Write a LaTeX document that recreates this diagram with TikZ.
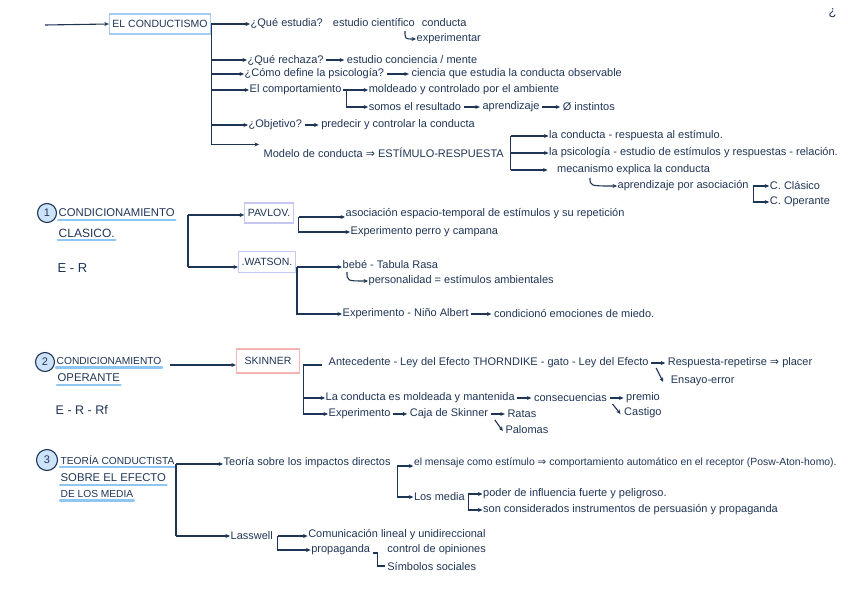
\documentclass[tikz,border=0pt]{standalone}
\usepackage{fontspec}
\setmainfont{Liberation Sans}
\newfontfamily\sym{DejaVu Sans}
\usetikzlibrary{arrows.meta,positioning}
\definecolor{ink}{HTML}{1F3556}
\definecolor{boxblue}{HTML}{A9CBF2}
\definecolor{boxlav}{HTML}{C6C8F2}
\definecolor{boxred}{HTML}{F4B4B4}
\definecolor{ulblue}{HTML}{8FC6F2}
\definecolor{numblue}{HTML}{CDE3FA}
\tikzset{
  txt/.style={anchor=west, inner sep=0.5pt, text=ink, font=\fontsize{11}{13}\selectfont},
  hdr/.style={anchor=west, inner sep=0.5pt, text=ink, font=\fontsize{11.3}{13}\selectfont},
  arr/.style={draw=ink, line width=1.1pt, -{Stealth[length=4.5pt,width=4pt]}},
  ln/.style={draw=ink, line width=1.1pt},
  bx/.style={draw=#1, line width=1.3pt, inner sep=3pt, text=ink, font=\fontsize{10.5}{12}\selectfont},
  ul/.style={draw=ulblue, line width=2.4pt, line cap=round},
  num/.style={circle, draw=ink, fill=numblue, line width=1.1pt, inner sep=0pt, minimum size=19pt, text=ink, font=\fontsize{11}{13}\selectfont}
}
\begin{document}
\begin{tikzpicture}[x=1pt,y=-1pt]
\useasboundingbox (0,0) rectangle (848,599);
% ---------- EL CONDUCTISMO ----------
\coordinate (s0) at (45,25);
\node[bx=boxblue, minimum width=94pt, minimum height=20pt] (cond) at (160,24) {EL CONDUCTISMO};
\draw[arr] (s0) -- (cond.west);
\node[txt] (q1) at (250,23) {¿Qué estudia?\hspace{6pt} estudio científico\hspace{4pt} conducta};
\draw[arr] (cond.east) -- (cond.east -| q1.west);
\coordinate (h1) at (405,31);
\node[txt] (exp) at (416,39) {experimentar};
\draw[arr] (h1) .. controls (h1 |- exp.west) .. (exp.west);
\node[txt] (q2a) at (247,60) {¿Qué rechaza?};
\node[txt, right=22pt of q2a] (q2b) {estudio conciencia / mente};
\draw[arr, shorten <=2pt, shorten >=2pt] (q2a.east) -- (q2b.west);
\node[txt] (q3a) at (244,74) {¿Cómo define la psicología?};
\node[txt, right=26pt of q3a] (q3b) {ciencia que estudia la conducta observable};
\draw[arr, shorten <=2pt, shorten >=2pt] (q3a.east) -- (q3b.west);
\node[txt] (q4) at (249,90) {El comportamiento};
\node[txt, right=26pt of q4] (m1) {moldeado y controlado por el ambiente};
\node[txt] (m2) at (m1.west |- 0,107) {somos el resultado};
\node[txt, right=20pt of m2] (m2b) {aprendizaje};
\node[txt, right=22pt of m2b] (m2c) {Ø instintos};
\coordinate (b4) at ([xshift=4pt]q4.east);
\draw[arr] ([xshift=1pt]q4.east) -- (m1.west);
\draw[arr] (b4) |- (m2.west);
\draw[arr, shorten <=2pt, shorten >=2pt] (m2.east) -- (m2b.west);
\draw[arr, shorten <=2pt, shorten >=2pt] (m2b.east) -- (m2c.west);
\node[txt] (q5a) at (248,125) {¿Objetivo?};
\node[txt, right=18pt of q5a] (q5b) {predecir y controlar la conducta};
\draw[arr, shorten <=2pt, shorten >=2pt] (q5a.east) -- (q5b.west);
\node[txt] (q6) at (263,153) {Modelo de conducta {\sym ⇒} ESTÍMULO-RESPUESTA};
\coordinate (q6t) at ([xshift=-4pt,yshift=3pt]q6.north west);
\draw[ln] (cond.east) -- (cond.east |- q6t);
\foreach \n in {q2a,q3a,q4,q5a} {\draw[arr] (cond.east |- \n.west) -- (\n.west);}
\draw[arr] (cond.east |- q6t) -- (q6t);
\coordinate (r0) at ([xshift=6pt]q6.east);
\node[txt] (r1) at ([xshift=38pt]r0 |- 0,136) {la conducta - respuesta al estímulo.};
\node[txt] (r2) at ([xshift=38pt]r0 |- 0,153) {la psicología - estudio de estímulos y respuestas - relación.};
\node[txt] (r3) at ([xshift=46pt]r0 |- 0,170) {mecanismo explica la conducta};
\draw[ln] (r0 |- r1.west) -- (r0 |- r3.west);
\draw[arr] (r0 |- r1.west) -- (r1.west);
\draw[arr] (r0 |- r2.west) -- (r2.west);
\draw[arr] (r0 |- r3.west) -- ([xshift=-9pt]r3.west);
\coordinate (h2) at (590,178);
\node[txt] (ap) at (617,186) {aprendizaje por asociación};
\draw[arr] (h2) .. controls (h2 |- ap.west) .. (ap.west);
\node[txt, right=20pt of ap] (c1) {C. Clásico};
\node[txt] (c2) at ([yshift=-16pt]c1.west) {C. Operante};
\coordinate (c0) at ([xshift=4pt]ap.east);
\draw[arr] (c0) -- (c1.west);
\draw[arr] (c0) |- (c2.west);
\node[txt, font=\fontsize{13}{14}\selectfont] (mk) at (828,13) {¿};
% ---------- 1 CONDICIONAMIENTO CLASICO ----------
\node[num] (n1) at (47,213) {1};
\node[hdr] (s1a) at (58,213) {CONDICIONAMIENTO};
\node[hdr, font=\fontsize{12}{13}\selectfont] (s1b) at (58,233) {CLASICO.};
\draw[ul] ([yshift=-2pt]s1a.south west) -- ([yshift=-2pt]s1a.south east);
\draw[ul] ([yshift=-2pt]s1b.south west) -- ([yshift=-2pt]s1b.south east);
\node[hdr, font=\fontsize{13}{14}\selectfont] (er1) at (57,268) {E - R};
\node[bx=boxlav, minimum height=20pt] (pav) at (269,213) {PAVLOV.};
\node[bx=boxlav, minimum height=21pt] (wat) at (267,262) {.WATSON.};
\coordinate (k1) at (188,215);
\draw[ln] (k1) -- (k1 |- 0,267);
\draw[arr] (k1) -- (k1 -| pav.west);
\draw[arr] (k1 |- 0,267) -- (wat.west |- 0,267);
\coordinate (pk) at ([xshift=5pt,yshift=-4pt]pav.east);
\node[txt] (p1) at (345,214) {asociación espacio-temporal de estímulos y su repetición};
\node[txt] (p2) at (350,232) {Experimento perro y campana};
\draw[arr] (pk) -- (pk -| p1.west);
\draw[arr] (pk) |- (p2.west);
\node[txt] (w1) at (342,265) {bebé - Tabula Rasa};
\coordinate (wk) at ([xshift=1pt,yshift=-5pt]wat.east);
\draw[arr] (wk) -- (wk -| w1.west);
\coordinate (h3) at (347,272);
\node[txt] (w2) at (368,281) {personalidad = estímulos ambientales};
\draw[arr] (h3) .. controls (h3 |- w2.west) .. (w2.west);
\node[txt] (w3) at (342,314) {Experimento - Niño Albert};
\node[txt, right=24pt of w3] (w4) {condicionó emociones de miedo.};
\draw[arr] (wk) |- (w3.west);
\draw[arr, shorten <=2pt, shorten >=2pt] (w3.east) -- (w4.west);
% ---------- 2 CONDICIONAMIENTO OPERANTE ----------
\node[num] (n2) at (45,362) {2};
\node[hdr, font=\fontsize{10.2}{12}\selectfont] (s2a) at (56,361) {CONDICIONAMIENTO};
\node[hdr] (s2b) at (57,378) {OPERANTE};
\draw[ul] ([yshift=-2pt]s2a.south west) -- ([yshift=-2pt]s2a.south east);
\draw[ul] ([yshift=-2pt]s2b.south west) -- ([yshift=-2pt]s2b.south east);
\node[hdr, font=\fontsize{12.5}{14}\selectfont] (er2) at (55,410) {E - R - Rf};
\node[bx=boxred, minimum width=63pt, minimum height=24pt] (sk) at (268,361) {SKINNER};
\draw[arr] ([xshift=8pt,yshift=-4pt]s2a.east) -- ([yshift=-4pt]sk.west);
\node[txt] (a1) at (328,363) {Antecedente - Ley del Efecto THORNDIKE - gato - Ley del Efecto};
\node[txt, right=18pt of a1] (ar1) {Respuesta-repetirse {\sym ⇒} placer};
\node[txt] (ar2) at ([xshift=3pt,yshift=-18pt]ar1.west) {Ensayo-error};
\coordinate (sk0) at ([xshift=3pt,yshift=-4pt]sk.east);
\draw[ln, shorten >=6pt] (sk0) -- (sk0 -| a1.west);
\draw[arr, shorten <=2pt, shorten >=2pt] (a1.east) -- (ar1.west);
\draw[arr] ([xshift=7pt,yshift=-5pt]a1.east) -- ([xshift=-7pt,yshift=-1pt]ar2.west);
\node[txt] (a2) at (325,398) {La conducta es moldeada y mantenida};
\node[txt, right=18pt of a2] (a2b) {consecuencias};
\node[txt, right=18pt of a2b] (a2c) {premio};
\node[txt] (a2d) at ([xshift=-2pt,yshift=-15pt]a2c.west) {Castigo};
\draw[arr, shorten <=2pt, shorten >=2pt] (a2.east) -- (a2b.west);
\draw[arr, shorten <=2pt, shorten >=2pt] (a2b.east) -- (a2c.west);
\draw[arr] ([xshift=5pt,yshift=-6pt]a2b.east) -- ([xshift=-3pt,yshift=-1pt]a2d.west);
\node[txt] (a3) at (328,414) {Experimento};
\node[txt, right=18pt of a3] (a3b) {Caja de Skinner};
\node[txt, right=18pt of a3b] (a3c) {Ratas};
\node[txt] (a3d) at ([xshift=-2pt,yshift=-16pt]a3c.west) {Palomas};
\draw[ln] (sk0) -- (sk0 |- a3.west);
\draw[arr] (sk0 |- a2.west) -- (a2.west);
\draw[arr] (sk0 |- a3.west) -- (a3.west);
\draw[arr, shorten <=2pt, shorten >=2pt] (a3.east) -- (a3b.west);
\draw[arr, shorten <=2pt, shorten >=2pt] (a3b.east) -- (a3c.west);
\draw[arr] ([xshift=6pt,yshift=-6pt]a3b.east) -- ([xshift=-2pt,yshift=-1pt]a3d.west);
% ---------- 3 TEORIA CONDUCTISTA ----------
\node[num, minimum size=21pt] (n3) at (47,460) {3};
\node[hdr, font=\fontsize{10.2}{12}\selectfont] (t1) at (60,460) {TEORÍA CONDUCTISTA};
\node[hdr, font=\fontsize{11.3}{12}\selectfont] (t2) at (60,478) {SOBRE EL EFECTO};
\node[hdr, font=\fontsize{10.2}{12}\selectfont] (t3) at (60,494) {DE LOS MEDIA};
\foreach \t in {t1,t2,t3} {\draw[ul] ([yshift=-2pt]\t.south west) -- ([yshift=-2pt]\t.south east);}
\coordinate (k3) at (176,464);
\node[txt] (d1) at (223,463) {Teoría sobre los impactos directos};
\node[txt] (las) at (230,536) {Lasswell};
\draw[ln] (k3) -- (k3 |- las.west);
\draw[arr] (k3) -- (k3 -| d1.west);
\draw[arr] (k3 |- las.west) -- (las.west);
\coordinate (k4) at ([xshift=6pt,yshift=-3pt]d1.east);
\node[txt, font=\fontsize{10.4}{12}\selectfont] (e1) at ([xshift=16pt]k4 |- 0,463) {el mensaje como estímulo {\sym ⇒} comportamiento automático en el receptor (Posw-Aton-homo).};
\node[txt] (e2) at ([xshift=16pt]k4 |- 0,497) {Los media};
\draw[arr] (k4) -- (k4 -| e1.west);
\draw[arr] (k4) |- (e2.west);
\coordinate (k5) at ([xshift=3pt]e2.east);
\node[txt] (f1) at ([xshift=14pt]k5 |- 0,494) {poder de influencia fuerte y peligroso.};
\node[txt] (f2) at ([xshift=14pt]k5 |- 0,510) {son considerados instrumentos de persuasión y propaganda};
\draw[arr] (k5) |- (f1.west);
\draw[arr] (k5) |- (f2.west);
\coordinate (k6) at ([xshift=4pt]las.east);
\node[txt] (g1) at ([xshift=30pt]k6 |- 0,535) {Comunicación lineal y unidireccional};
\node[txt] (g2) at ([xshift=33pt]k6 |- 0,550) {propaganda};
\node[txt, right=16pt of g2] (g3) {control de opiniones};
\node[txt] (g4) at ([yshift=-16pt]g3.west) {Símbolos sociales};
\draw[arr] (k6) -- (k6 -| g1.west);
\draw[arr] (k6) |- (g2.west);
\coordinate (k7) at ([xshift=7pt,yshift=-3pt]g2.east);
\draw[ln] ([xshift=2pt,yshift=-3pt]g2.east) -- (k7) -- (k7 |- g4.west) -- ([xshift=-2pt]g4.west);
\end{tikzpicture}
\end{document}
